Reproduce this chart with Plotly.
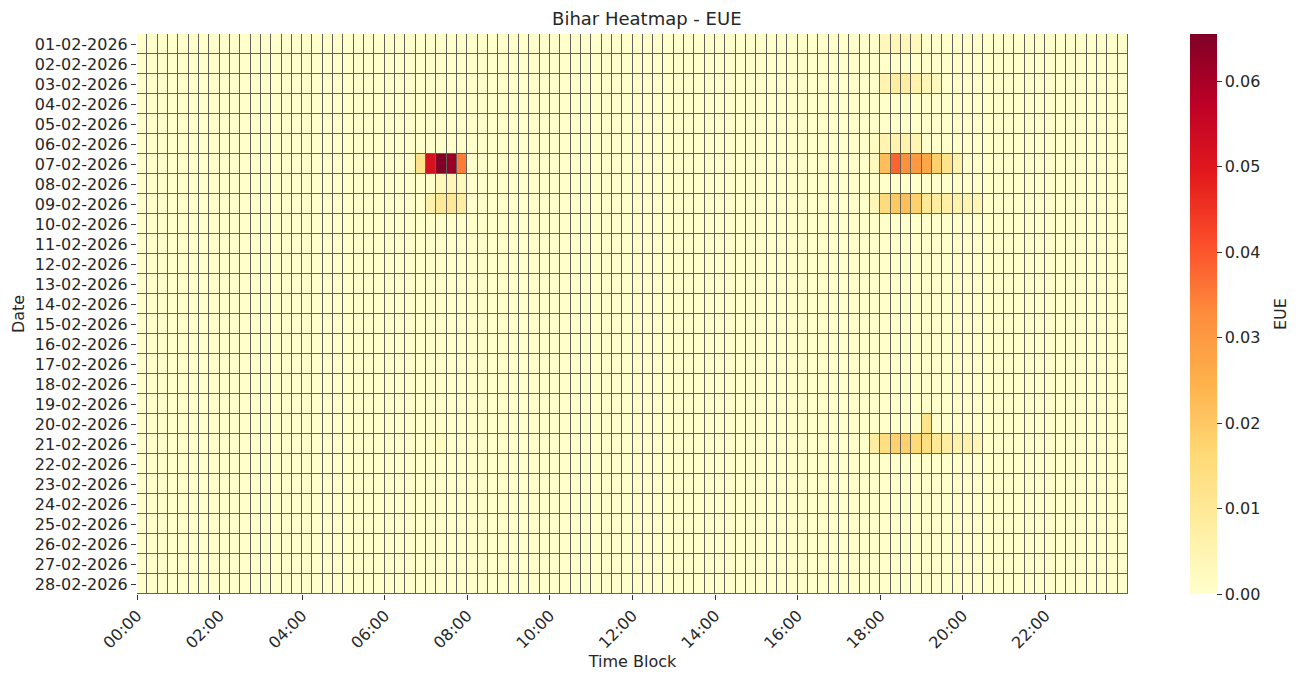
import numpy as np
import plotly.graph_objects as go

# Categories
dates = [f"{d:02d}-02-2026" for d in range(1, 29)]
time_blocks = [f"{(i*15)//60:02d}:{(i*15)%60:02d}" for i in range(96)]
tick_labels = [f"{h:02d}:00" for h in range(0, 24, 2)]

# Non-zero EUE segments: (date, first time block, values)
morning_0702 = ("07-02-2026", "06:45", [0.012, 0.052, 0.0655, 0.062, 0.035])
morning_0802 = ("08-02-2026", "07:15", [0.003, 0.004, 0.003])
morning_0902 = ("09-02-2026", "07:00", [0.006, 0.010, 0.010, 0.008])
evening_0102 = ("01-02-2026", "18:00", [0.003, 0.004, 0.004, 0.003])
evening_0302 = ("03-02-2026", "18:00", [0.005, 0.008, 0.008, 0.006, 0.004, 0.003])
evening_0602 = ("06-02-2026", "17:45", [0.002, 0.005, 0.006, 0.006, 0.005])
evening_0702 = ("07-02-2026", "17:45", [0.003, 0.022, 0.038, 0.032, 0.030, 0.027, 0.018, 0.012, 0.006])
evening_0902 = ("09-02-2026", "17:45", [0.004, 0.015, 0.020, 0.022, 0.018, 0.010, 0.008, 0.007, 0.006, 0.005, 0.004])
evening_2002 = ("20-02-2026", "19:00", [0.012])
evening_2102 = ("21-02-2026", "17:45", [0.008, 0.014, 0.018, 0.018, 0.016, 0.014, 0.010, 0.008, 0.006, 0.006, 0.004])
morning_2102 = ("21-02-2026", "07:15", [0.002])

segments = [morning_0702, morning_0802, morning_0902, evening_0102, evening_0302,
            evening_0602, evening_0702, evening_0902, evening_2002, evening_2102, morning_2102]

z = np.zeros((len(dates), len(time_blocks)))
for d, t, vals in segments:
    r = dates.index(d)
    c = time_blocks.index(t)
    for k, v in enumerate(vals):
        z[r, c + k] = v

xcent = [i + 0.5 for i in range(len(time_blocks))]
tickvals = [time_blocks.index(t) for t in tick_labels]

FS = 16
TXT = "#262626"

fig = go.Figure(go.Heatmap(
    z=z, x=xcent, y=dates,
    colorscale="YlOrRd", zmin=0, zmax=0.0655,
    xgap=1, ygap=1,
    customdata=np.array([time_blocks] * len(dates)),
    hovertemplate="%{y} %{customdata}: %{z}<extra></extra>",
    colorbar=dict(
        thickness=27, len=1.0, lenmode="fraction", y=0.5, yanchor="middle",
        x=1.0626, xanchor="left", xpad=0, ypad=0,
        tickvals=[0, 0.01, 0.02, 0.03, 0.04, 0.05, 0.06],
        ticktext=["0.00", "0.01", "0.02", "0.03", "0.04", "0.05", "0.06"],
        ticks="outside", ticklen=5, tickcolor="#333",
        tickfont=dict(size=FS, color=TXT),
        outlinewidth=0,
    ),
))

fig.update_layout(
    width=1301, height=677,
    margin=dict(l=129, r=181, t=26, b=91),
    paper_bgcolor="white", plot_bgcolor="#62625a",
    font=dict(family="DejaVu Sans", color=TXT),
    title=dict(text="Bihar Heatmap - EUE", x=0.491, xanchor="center", y=0.9838, yanchor="middle",
               font=dict(size=18, color=TXT)),
    annotations=[dict(text="EUE", textangle=-90, xref="paper", yref="paper",
                      x=1.1534, y=0.5, xanchor="center", yanchor="middle",
                      showarrow=False, font=dict(size=FS, color=TXT))],
)
fig.update_xaxes(
    range=[0, 96], tickvals=tickvals, ticktext=tick_labels, tickangle=-45,
    ticks="outside", ticklen=5, tickcolor="#333", tickfont=dict(size=FS),
    showgrid=False, zeroline=False, automargin=False,
    title=dict(text="Time Block", font=dict(size=FS), standoff=4),
)
fig.update_yaxes(
    autorange="reversed", ticks="outside", ticklen=5, tickcolor="#333",
    tickfont=dict(size=FS), showgrid=False, zeroline=False, automargin=False,
    title=dict(text="Date", font=dict(size=FS), standoff=6),
)

fig.write_html("out.html")
